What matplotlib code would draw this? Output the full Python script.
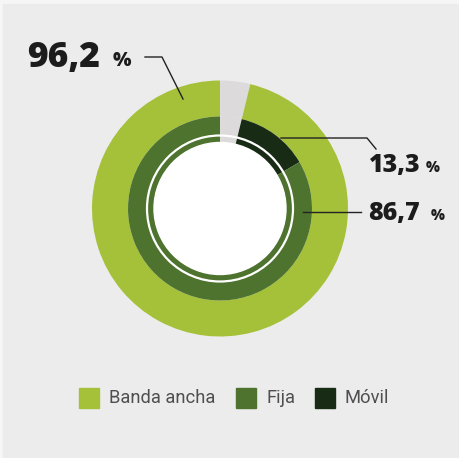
import matplotlib.pyplot as plt
from matplotlib.patches import Circle, Rectangle

# data
total_labels = ['Banda ancha', 'Resto']
total_values = [96.2, 3.8]
split_labels = ['Fija', 'Móvil']
split_values = [86.7, 13.3]
legend_labels = ['Banda ancha', 'Fija', 'Móvil']

c_light = '#a5c13a'
c_mid = '#4d732e'
c_dark = '#182b15'
c_gray = '#dcdadb'
bg = '#ececec'

W, H = 459, 458
fig = plt.figure(figsize=(W / 100, H / 100), dpi=100)
fig.patch.set_facecolor('#f6f6f6')
ax = fig.add_axes([0, 0, 1, 1])
ax.set_xlim(0, W)
ax.set_ylim(0, H)
ax.set_aspect('equal')
ax.axis('off')
ax.add_patch(Rectangle((3, 0), W, H - 4, color=bg, zorder=0))


def py(y):
    # image row -> data y
    return H - y


cx, cy = 220, py(208.5)
R_out, R_in, R_hole, R_line = 128, 92, 66, 73

# outer ring: grey gap then banda ancha, clockwise from 12 o'clock
ax.pie([total_values[1], total_values[0]], colors=[c_gray, c_light],
       startangle=90, counterclock=False, center=(cx, cy), radius=R_out,
       wedgeprops=dict(width=R_out - R_in, linewidth=0), frame=True)

# inner ring: same grey gap, then movil and fija as shares of banda ancha
share = total_values[0] / 100
inner = [total_values[1], split_values[1] * share, split_values[0] * share]
ax.pie(inner, colors=[c_gray, c_dark, c_mid],
       startangle=90, counterclock=False, center=(cx, cy), radius=R_in,
       wedgeprops=dict(width=R_in - R_hole + 1, linewidth=0), frame=True)

ax.add_patch(Circle((cx, cy), R_hole, color='white', zorder=5))
ax.add_patch(Circle((cx, cy), R_line, fill=False, ec='white', lw=1.6, zorder=5))
ax.set_xlim(0, W)
ax.set_ylim(0, H)
ax.axis('off')

big = dict(family=['Open Sans', 'DejaVu Sans'], weight='heavy', style='normal',
           color='#1c1c1c')
lc = '#222222'

# 96,2 %
ax.text(27, py(67), '{:.1f}'.format(total_values[0]).replace('.', ','), fontsize=25.5, **big)
ax.text(113, py(66), '%', fontsize=14, **big)
ax.plot([145, 162, 183], [py(57), py(57), py(99)], color=lc, lw=1, zorder=6)

# 13,3 %
ax.text(369, py(172), '{:.1f}'.format(split_values[1]).replace('.', ','), fontsize=18, **big)
ax.text(426, py(172), '%', fontsize=10.5, **big)
ax.plot([281, 367, 376], [py(138), py(138), py(149)], color=lc, lw=1, zorder=6)

# 86,7 %
ax.text(368, py(220), '{:.1f}'.format(split_values[0]).replace('.', ','), fontsize=18, **big)
ax.text(431, py(220), '%', fontsize=10.5, **big)
ax.plot([303, 361], [py(212), py(212)], color=lc, lw=1, zorder=6)

# legend
leg_x = [79, 236, 315]
leg_c = [c_light, c_mid, c_dark]
for x, c, lab in zip(leg_x, leg_c, legend_labels):
    ax.add_patch(Rectangle((x, py(408)), 20, 20, color=c, zorder=6))
    ax.text(x + 30, py(398), lab, fontsize=13.2, family='Roboto',
            color='#4f4f4f', va='center', ha='left')

fig.savefig('out.png', dpi=100, facecolor=fig.get_facecolor())
